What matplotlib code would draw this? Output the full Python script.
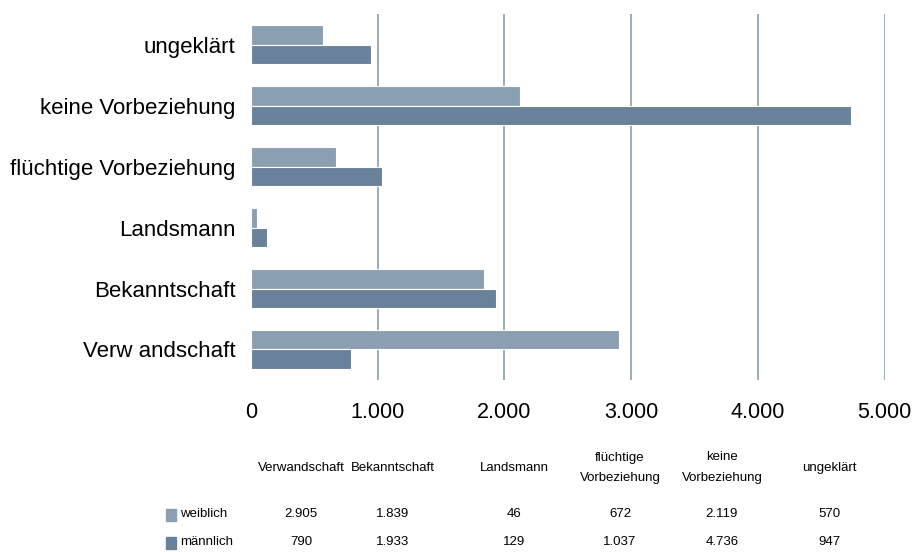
import matplotlib.pyplot as plt
import numpy as np

plt.rcParams['font.family'] = ['Liberation Sans', 'DejaVu Sans']

kategorien = ['Verw andschaft', 'Bekanntschaft', 'Landsmann',
              'flüchtige Vorbeziehung', 'keine Vorbeziehung', 'ungeklärt']
tabellen_kopf = ['Verwandschaft', 'Bekanntschaft', 'Landsmann',
                 'flüchtige\nVorbeziehung', 'keine\nVorbeziehung', 'ungeklärt']
weiblich = [2905, 1839, 46, 672, 2119, 570]
maennlich = [790, 1933, 129, 1037, 4736, 947]
x_ticks = [0, 1000, 2000, 3000, 4000, 5000]
x_labels = ['0', '1.000', '2.000', '3.000', '4.000', '5.000']

c_w = '#8a9fb2'
c_m = '#6a8299'

def fmt(v):
    return '{:,}'.format(v).replace(',', '.')

fig = plt.figure(figsize=(9.17, 5.52), dpi=100)
ax = fig.add_axes([0.2737, 0.3116, 0.6911, 0.663])

y = np.arange(len(kategorien))
h = 0.32
ax.barh(y + h / 2, weiblich, height=h, color=c_w, edgecolor='white', linewidth=0.8, zorder=3)
ax.barh(y - h / 2, maennlich, height=h, color=c_m, edgecolor='white', linewidth=0.8, zorder=3)

ax.set_xlim(0, 5000)
ax.set_ylim(-0.5, len(kategorien) - 0.5)
ax.set_yticks(y)
ax.set_yticklabels(kategorien, fontsize=16)
ax.set_xticks(x_ticks)
ax.set_xticklabels(x_labels, fontsize=15.5)
ax.tick_params(length=0)
ax.tick_params(axis='y', pad=11)
ax.tick_params(axis='x', pad=16)
for s in ax.spines.values():
    s.set_visible(False)
for xv in x_ticks[1:]:
    ax.axvline(xv, color='#8c9cab', linewidth=1.2, zorder=1)

# Datentabelle
spalten_x = [301, 393, 514, 620, 722, 829]
W, H = 917, 552
fs = 9.5
for cx, kopf in zip(spalten_x, tabellen_kopf):
    fig.text(cx / W, 1 - 468 / H, kopf, ha='center', va='center', fontsize=fs,
             linespacing=2.0)
for row_y, name, werte, col in [(514, 'weiblich', weiblich, c_w), (542, 'männlich', maennlich, c_m)]:
    fig.add_artist(plt.Rectangle((166 / W, 1 - (row_y + 7) / H), 10 / W, 12 / H,
                                 color=col, transform=fig.transFigure))
    fig.text(180 / W, 1 - row_y / H, name, ha='left', va='center', fontsize=fs)
    for cx, v in zip(spalten_x, werte):
        fig.text(cx / W, 1 - row_y / H, fmt(v), ha='center', va='center', fontsize=fs)

fig.savefig('out.png', dpi=100)
